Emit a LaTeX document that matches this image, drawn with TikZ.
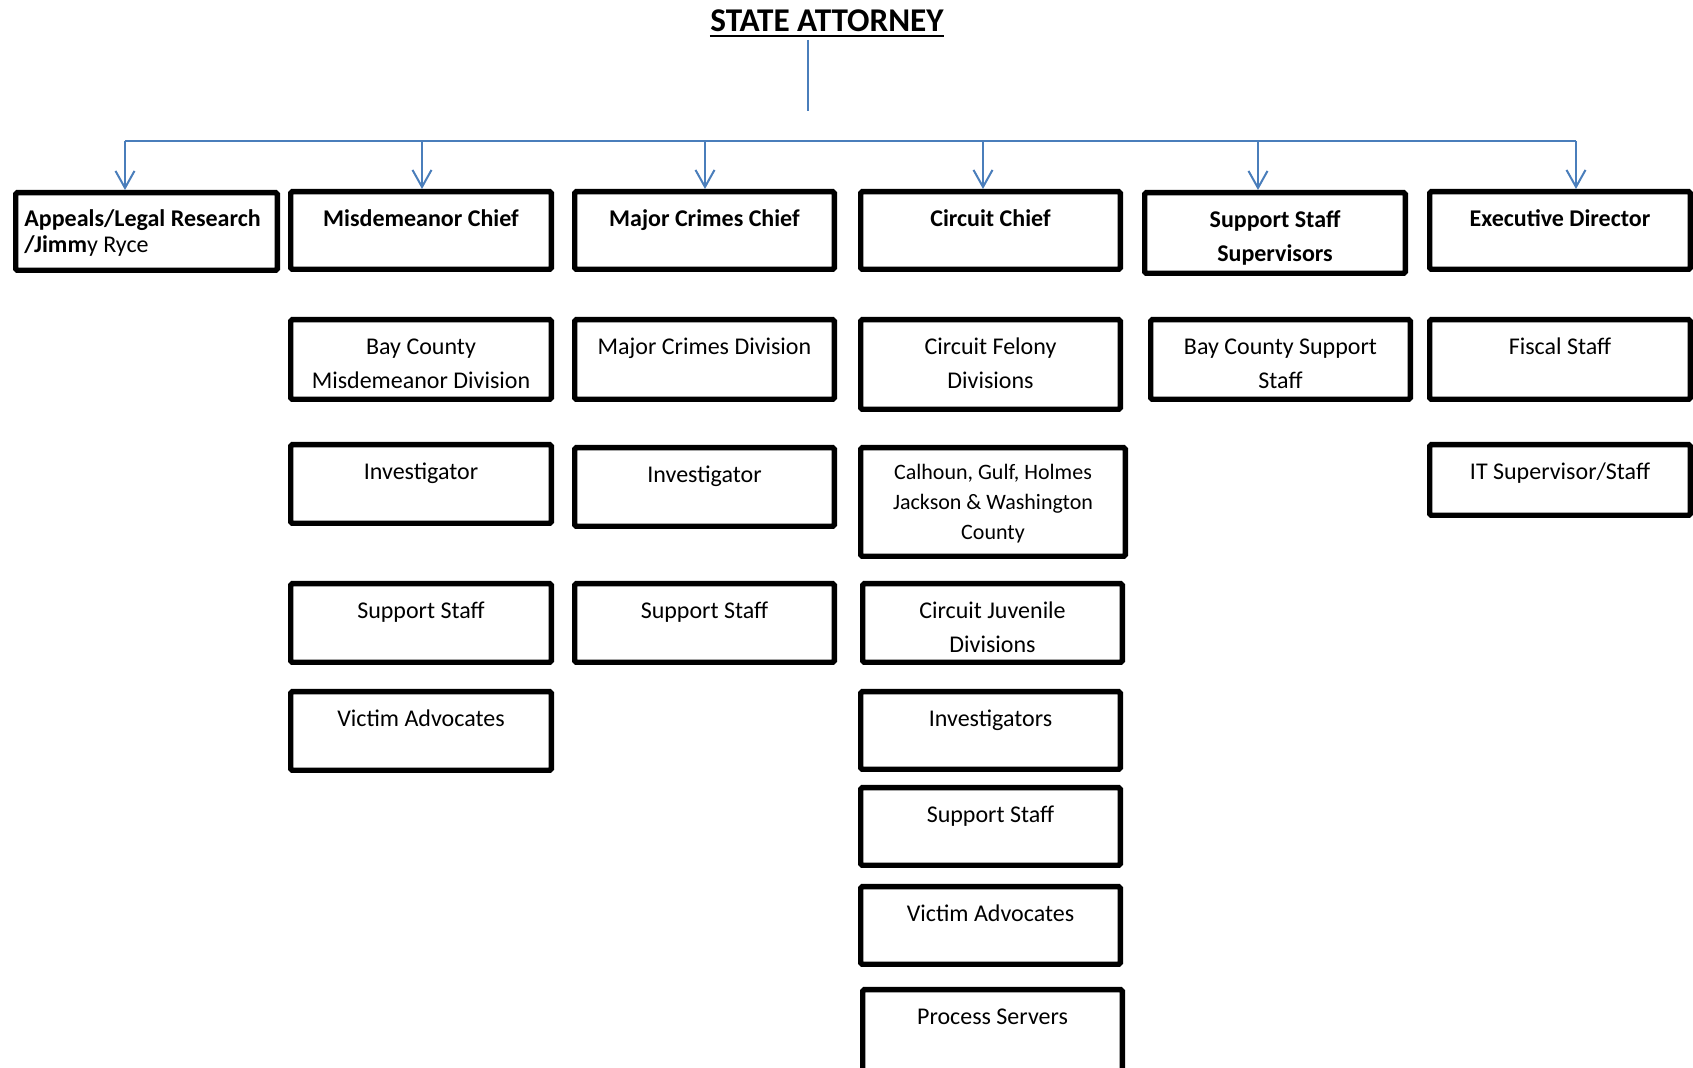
\documentclass[tikz,border=0pt]{standalone}
\usepackage{fontspec}
\setmainfont{Carlito}
\usetikzlibrary{arrows.meta,fit}
\definecolor{linkblue}{RGB}{74,126,187}
\tikzset{
  obox/.style={draw=black, line width=2.7pt, rounded corners=0.8pt, inner sep=0pt},
  lbl/.style={inner sep=0pt, align=center, font=\fontsize{12}{16.75}\selectfont},
  hd/.style={font=\fontsize{12}{16.75}\selectfont\bfseries},
  small/.style={font=\fontsize{11}{15}\selectfont},
  link/.style={draw=linkblue, line width=1pt},
  drop/.style={link, -{Straight Barb[length=8.5pt,width=9.5pt]}},
}
% box given by its outer edges (left, top, right, bottom) with a label at its top
\newcommand\orgbox[7][]{%
  \node[obox, fit={({#3+2.7},{#4+2.7}) ({#5-2.7},{#6-2.7})}] (#2) {};
  \node[lbl, anchor=north, #1] (#2-label) at ([yshift=-6.9pt]#2.north) {\strut #7};
}
\begin{document}
\begin{tikzpicture}[x=0.5pt, y=-0.5pt]
\clip (0,0) rectangle (1693,1068);
\fill[white] (0,0) rectangle (1693,1068);

% title
\node[inner sep=0pt, anchor=base, font=\fontsize{16.6}{19}\selectfont\bfseries] (title) at (827,32) {STATE ATTORNEY};
\draw[line width=1.2pt] ([yshift=-1.9pt]title.base west) -- ([yshift=-1.9pt]title.base east);

% top row
\node[obox, fit={(15.7,192.7) (277.3,270.3)}] (appeals) {};
\node[lbl, align=left, anchor=north west, font=\fontsize{12}{12}\selectfont] (appeals-label)
  at ([xshift=5.5pt,yshift=-9.8pt]appeals.north west) {\strut\textbf{Appeals/Legal Research}\\\textbf{/Jimm}y Ryce};
\orgbox[hd]{misdchief}{288}{189}{554}{272}{Misdemeanor Chief}
\orgbox[hd]{majchief}{572}{189}{837}{272}{Major Crimes Chief}
\orgbox[hd]{circchief}{858}{189}{1123}{272}{Circuit Chief}
\orgbox[hd]{suppsup}{1142}{190}{1408}{276}{Support Staff\\Supervisors}
\orgbox[hd]{execdir}{1427}{189}{1693}{272}{Executive Director}

% misdemeanor column
\orgbox{baymisd}{288}{317}{554}{402}{Bay County\\Misdemeanor Division}
\orgbox{misdinv}{288}{442}{554}{526}{Investigator}
\orgbox{misdsupp}{288}{581}{554}{665}{Support Staff}
\orgbox{misdvict}{288}{689}{554}{773}{Victim Advocates}

% major crimes column
\orgbox{majdiv}{572}{317}{837}{402}{Major Crimes Division}
\orgbox{majinv}{572}{445}{837}{529}{Investigator}
\orgbox{majsupp}{572}{581}{837}{665}{Support Staff}

% circuit column
\orgbox{felony}{858}{317}{1123}{412}{Circuit Felony\\Divisions}
\node[obox, fit={(860.7,447.7) (1125.3,556.3)}] (counties) {};
\node[lbl, small, anchor=north] (counties-label) at ([yshift=-6.8pt]counties.north)
  {\strut Calhoun, Gulf, Holmes\\Jackson \& Washington\\County};
\orgbox{juvenile}{860}{581}{1125}{665}{Circuit Juvenile\\Divisions}
\orgbox{circinv}{858}{689}{1123}{772}{Investigators}
\orgbox{circsupp}{858}{785}{1123}{868}{Support Staff}
\orgbox{circvict}{858}{884}{1123}{967}{Victim Advocates}
\orgbox{process}{860}{987}{1125}{1090}{Process Servers}

% support staff column
\orgbox{baysupp}{1148}{317}{1413}{402}{Bay County Support\\Staff}

% executive column
\orgbox{fiscal}{1427}{317}{1693}{402}{Fiscal Staff}
\orgbox{itsup}{1427}{442}{1693}{518}{IT Supervisor/Staff}

% connectors
\coordinate (trunk-top) at (808,40);
\coordinate (trunk-end) at (808,111);
\draw[link] (trunk-top) -- (trunk-end);
\coordinate (bus-w) at (125,141);
\coordinate (bus-e) at (1576,141);
\draw[link] (bus-w) -- (bus-e);
\coordinate (d1) at (125,141);
\coordinate (d2) at (422,141);
\coordinate (d3) at (705,141);
\coordinate (d4) at (983,141);
\coordinate (d5) at (1258,141);
\coordinate (d6) at (1576,141);
\draw[drop] (d1) -- (d1 |- appeals.north);
\draw[drop] (d2) -- (d2 |- misdchief.north);
\draw[drop] (d3) -- (d3 |- majchief.north);
\draw[drop] (d4) -- (d4 |- circchief.north);
\draw[drop] (d5) -- (d5 |- suppsup.north);
\draw[drop] (d6) -- (d6 |- execdir.north);
\end{tikzpicture}
\end{document}
